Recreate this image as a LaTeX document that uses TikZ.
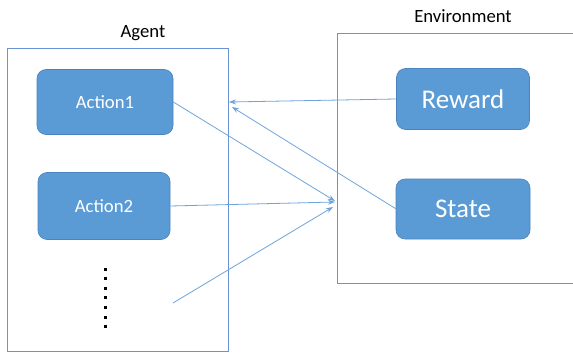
\documentclass[tikz,border=0pt]{standalone}
\usepackage{fontspec}
\setmainfont{Carlito}
\usetikzlibrary{arrows.meta}
\definecolor{boxfill}{HTML}{5B9BD5}
\definecolor{boxdraw}{HTML}{4A83BD}
\definecolor{framecol}{HTML}{6A92D4}
\definecolor{linkcol}{HTML}{6FA3DA}
\begin{document}
\begin{tikzpicture}[x=1pt,y=-1pt,
  frame/.style={draw=framecol,line width=0.9pt},
  blk/.style={draw=boxdraw,fill=boxfill,rounded corners=9pt,line width=0.6pt,text=white,inner sep=0pt},
  smallblk/.style={blk,font=\fontsize{18.7}{22}\selectfont},
  bigblk/.style={blk,font=\fontsize{27}{32}\selectfont},
  lbl/.style={font=\fontsize{18.7}{22}\selectfont,text=black},
  link/.style={draw=linkcol,line width=0.8pt,-{Stealth[length=7pt,width=5pt]}},
  dotc/.style={fill=black,minimum size=3pt,inner sep=0pt}]
\useasboundingbox (0,0) rectangle (573,353);
\begin{scope}
\clip (0,0) rectangle (573,353);
\node[frame,minimum width=221pt,minimum height=303pt,anchor=north west] (agent) at (7,48) {};
\node[frame,minimum width=246pt,minimum height=250pt,anchor=north west] (env) at (337,33) {};
\end{scope}
\node[lbl] (agentlbl) at (143,33) {Agent};
\node[lbl] (envlbl) at (463,16) {Environment};
\node[smallblk,minimum width=136pt,minimum height=65pt] (a1) at (105,102) {Action1};
\node[smallblk,minimum width=132pt,minimum height=67pt] (a2) at (104,206) {Action2};
\node[bigblk,minimum width=133pt,minimum height=61pt] (rew) at (463,99) {Reward};
\node[bigblk,minimum width=134pt,minimum height=60pt] (st) at (463,209) {State};
\foreach \i in {0,...,6} {\node[dotc] (d\i) at (105,{269+9.6*\i}) {};}
\coordinate (t1) at (229,102);
\coordinate (t2) at (232,107);
\coordinate (t3) at (335,201);
\coordinate (t4) at (335,202);
\coordinate (t5) at (333,207);
\coordinate (s5) at (173,303);
\draw[link] (rew.west) -- (t1);
\draw[link] (st.north west) ++(0,30) -- (t2);
\draw[link] (a1.east) -- (t3);
\draw[link] (a2.east) -- (t4);
\draw[link] (s5) -- (t5);
\end{tikzpicture}
\end{document}
